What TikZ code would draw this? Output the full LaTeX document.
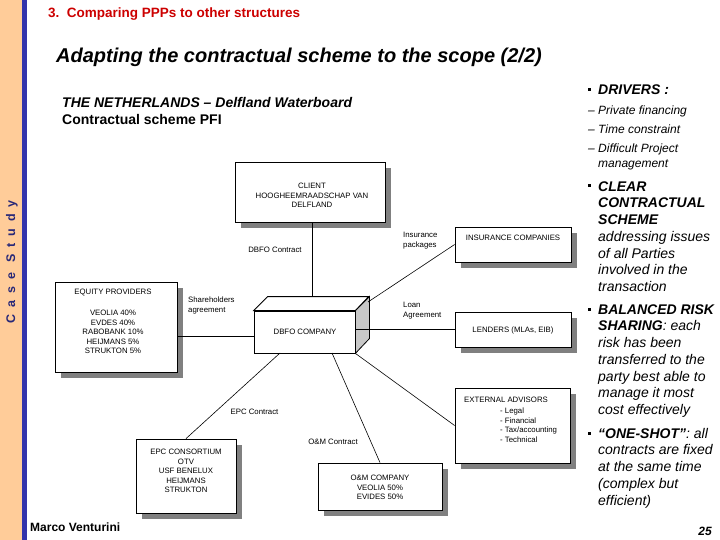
\documentclass[tikz,border=0pt]{standalone}
\usepackage{fontspec}
\setmainfont{Liberation Sans}
\newfontfamily\spacedfont[LetterSpace=55]{Liberation Sans}
\usetikzlibrary{shadows}
\definecolor{peach}{RGB}{255,204,153}
\definecolor{barblue}{RGB}{51,51,170}
\definecolor{titlered}{RGB}{204,0,0}
\definecolor{casenavy}{RGB}{40,40,120}
\definecolor{sidegray}{RGB}{200,200,200}
\begin{document}
\begin{tikzpicture}[x=1pt,y=-1pt,
  box/.style={draw=black, line width=0.8pt, fill=white, inner sep=0pt,
    drop shadow={shadow xshift=6pt, shadow yshift=-6pt, fill=black!50, opacity=1}},
  dtxt/.style={font=\fontsize{7.8}{9.5}\selectfont, inner sep=0pt, align=center},
  lbl/.style={font=\fontsize{7.8}{10}\selectfont, inner sep=0pt, align=left},
  conn/.style={line width=0.6pt},
  rtxt/.style={font=\fontsize{14}{16.75}\selectfont\itshape, inner sep=0pt, align=left},
  stxt/.style={font=\fontsize{12}{15}\selectfont\itshape, inner sep=0pt, align=left}]
\useasboundingbox (0,0) rectangle (720,540);
% side strip
\fill[peach] (0,0) rectangle (22,540);
\fill[barblue] (22,0) rectangle (26.5,540);
\node[rotate=90, font=\fontsize{12.5}{14}\spacedfont\bfseries, text=casenavy, inner sep=0pt] (case) at (12,262) {Case Study};
% titles
\node[anchor=base west, font=\fontsize{13.5}{16}\selectfont\bfseries, text=titlered, inner sep=0pt] (sec) at (48,18) {3.\ \ Comparing PPPs to other structures};
\node[anchor=base west, font=\fontsize{20}{24}\selectfont\bfseries\itshape, inner sep=0pt] (title) at (56,63) {Adapting the contractual scheme to the scope (2/2)};
\node[anchor=base west, font=\fontsize{14}{17}\selectfont\bfseries\itshape, inner sep=0pt] (nl) at (62,108) {THE NETHERLANDS -- Delfland Waterboard};
\node[anchor=base west, font=\fontsize{14}{17}\selectfont\bfseries, inner sep=0pt] (pfi) at (62,125) {Contractual scheme PFI};
% boxes
\node[box, minimum width=150pt, minimum height=60pt] (client) at (310,192) {};
\node[dtxt] (clientt) at (312,195.5) {CLIENT\\HOOGHEEMRAADSCHAP VAN\\DELFLAND};
\node[box, minimum width=122pt, minimum height=90pt] (equity) at (116,327) {};
\node[dtxt] (equityh) at (113,293) {EQUITY PROVIDERS};
\node[dtxt] (equityt) at (113,332) {VEOLIA 40\%\\EVDES 40\%\\RABOBANK 10\%\\HEIJMANS 5\%\\STRUKTON 5\%};
\node[box, minimum width=116pt, minimum height=35pt] (ins) at (513,244.5) {};
\node[dtxt] (inst) at (513,238) {INSURANCE COMPANIES};
\node[box, minimum width=116pt, minimum height=35pt] (lend) at (513,329.5) {};
\node[dtxt] (lendt) at (513,330) {LENDERS (MLAs, EIB)};
\node[box, minimum width=115pt, minimum height=75pt] (ext) at (512.5,425.5) {};
\node[dtxt, anchor=west] (exth) at (464,400) {EXTERNAL ADVISORS};
\node[lbl, font=\fontsize{7.8}{9.5}\selectfont, anchor=west] (extt) at (500,425) {- Legal\\- Financial\\- Tax/accounting\\- Technical};
\node[box, minimum width=100pt, minimum height=74pt] (epc) at (186,476) {};
\node[dtxt] (epct) at (186,471) {EPC CONSORTIUM\\OTV\\USF BENELUX\\HEIJMANS\\STRUKTON};
\node[box, minimum width=124pt, minimum height=47pt] (om) at (380,486.5) {};
\node[dtxt] (omt) at (380,487.5) {O\&M COMPANY\\VEOLIA 50\%\\EVIDES 50\%};
% DBFO 3D box
\node[draw=black, line width=0.8pt, fill=white, minimum width=101pt, minimum height=42pt, inner sep=0pt] (dbfo) at (304.5,332) {};
\fill[white, draw=black, line width=0.8pt] (dbfo.north west) -- ++(14,-14) -- ++(101,0) -- (dbfo.north east) -- cycle;
\fill[sidegray, draw=black, line width=0.8pt] (dbfo.north east) -- ++(14,-14) -- ++(0,42) -- (dbfo.south east) -- cycle;
\node[dtxt] (dbfot) at (305,332) {DBFO COMPANY};
% connector points
\coordinate (dtop) at (312,297);
\coordinate (insa) at (368,302);
\coordinate (epca) at (280,353);
\coordinate (oma) at (332,353);
% connectors
\draw[conn] (client.south -| dtop) -- (dtop);
\draw[conn] (equity.east |- 0,336) -- (dbfo.west |- 0,336);
\draw[conn] (insa) -- (ins.west);
\draw[conn] (dbfo.east |- lend.west) -- (lend.west);
\draw[conn] (dbfo.south east) -- (ext.west);
\draw[conn] (epca) -- (epc.north);
\draw[conn] (oma) -- (om.north);
% labels
\node[lbl] (l1) at (275,250) {DBFO Contract};
\node[lbl, anchor=west] (l2) at (403,240.5) {Insurance\\packages};
\node[lbl, anchor=west] (l3) at (188,305.5) {Shareholders\\agreement};
\node[lbl, anchor=west] (l4) at (403,311) {Loan\\Agreement};
\node[lbl] (l5) at (254.5,412) {EPC Contract};
\node[lbl] (l6) at (333,442) {O\&M Contract};
% right column (multi-line nodes anchored at the baseline of their last line)
\fill (587.5,88.5) rectangle (590.5,91.5);
\node[rtxt, anchor=base west] (drv) at (598,95) {\bfseries DRIVERS :};
\node[stxt, anchor=base west] (dash1) at (588,115) {--};
\node[stxt, anchor=base west] (r1) at (598,115) {Private financing};
\node[stxt, anchor=base west] (dash2) at (588,134) {--};
\node[stxt, anchor=base west] (r2) at (598,134) {Time constraint};
\node[stxt, anchor=base west] (dash3) at (588,153) {--};
\node[stxt, anchor=base west] (r3) at (598,168) {Difficult Project\\management};
\fill (587.5,184.5) rectangle (590.5,187.5);
\node[rtxt, anchor=base west] (clear) at (598,291.5) {{\bfseries CLEAR}\\{\bfseries CONTRACTUAL}\\{\bfseries SCHEME}\\addressing issues\\of all Parties\\involved in the\\transaction};
\fill (587.5,307.5) rectangle (590.5,310.5);
\node[rtxt, anchor=base west] (risk) at (598,414.5) {{\bfseries BALANCED RISK}\\{\bfseries SHARING}: each\\risk has been\\transferred to the\\party best able to\\manage it most\\cost effectively};
\fill (587.5,431.5) rectangle (590.5,434.5);
\node[rtxt, anchor=base west] (shot) at (598,505) {{\bfseries “ONE-SHOT”}: all\\contracts are fixed\\at the same time\\(complex but\\efficient)};
% footer
\node[anchor=base west, font=\fontsize{12}{14}\selectfont\bfseries, inner sep=0pt] (author) at (30,531) {Marco Venturini};
\node[anchor=base east, font=\fontsize{12}{14}\selectfont\bfseries\itshape, inner sep=0pt] (page) at (712,535.5) {25};
\end{tikzpicture}
\end{document}
